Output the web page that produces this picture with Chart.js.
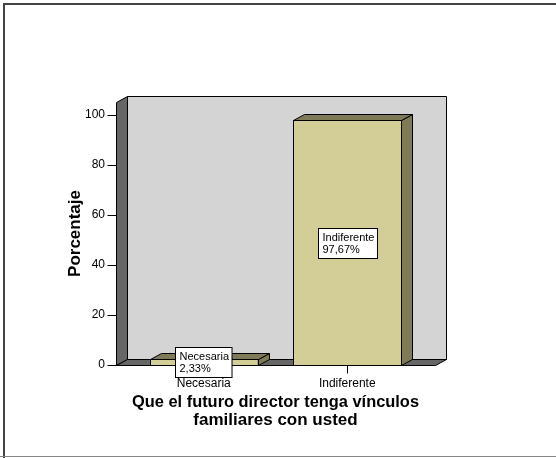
<!DOCTYPE html>
<html>
<head>
<meta charset="utf-8">
<script src="https://cdn.jsdelivr.net/npm/chart.js@4/dist/chart.umd.min.js"></script>
<style>
  body { margin: 0; background: #fff; }
</style>
</head>
<body>
<canvas id="chart" width="556" height="458"></canvas>
<script>
const categories = ["Necesaria", "Indiferente"];
const percentages = [2.33, 97.67];
const yTicks = [0, 20, 40, 60, 80, 100];
const xTitle = ["Que el futuro director tenga vínculos", "familiares con usted"];
const yTitle = "Porcentaje";

const FONT = "Arial, 'Liberation Sans', sans-serif";
const DX = 11, DY = 6, WALL_PAD = 16;

function poly(ctx, pts, fill) {
  ctx.beginPath();
  pts.forEach(([x, y], i) => i ? ctx.lineTo(x, y) : ctx.moveTo(x, y));
  ctx.closePath();
  ctx.fillStyle = fill;
  ctx.fill();
  ctx.strokeStyle = "#000";
  ctx.lineWidth = 1;
  ctx.stroke();
}

const px = v => Math.round(v) + 0.5;

// 3D walls, floor, bar sides and value boxes
const frame3d = {
  id: "frame3d",
  beforeDraw(chart) {
    const ctx = chart.ctx;
    ctx.save();
    ctx.fillStyle = "#fff";
    ctx.fillRect(0, 0, chart.width, chart.height);
    ctx.strokeStyle = "#444";
    ctx.lineWidth = 2;
    ctx.beginPath();
    ctx.moveTo(4, chart.height);
    ctx.lineTo(4, 4);
    ctx.lineTo(chart.width, 4);
    ctx.stroke();
    ctx.strokeStyle = "#888";
    ctx.lineWidth = 1;
    ctx.beginPath();
    ctx.moveTo(0, chart.height - 1.5);
    ctx.lineTo(chart.width, chart.height - 1.5);
    ctx.stroke();
    ctx.restore();
  },
  beforeDatasetsDraw(chart) {
    const { ctx, chartArea: a, scales: { x, y } } = chart;
    const L = px(a.left - WALL_PAD), R = px(a.right + WALL_PAD);
    const T = px(a.top), B = px(y.getPixelForValue(0));
    ctx.save();
    poly(ctx, [[L + DX, T - DY], [R + DX, T - DY], [R + DX, B - DY], [L + DX, B - DY]], "#d4d4d4");
    poly(ctx, [[L, T], [L + DX, T - DY], [L + DX, B - DY], [L, B]], "#666666");
    poly(ctx, [[L, B], [L + DX, B - DY], [R + DX, B - DY], [R, B]], "#666666");
    ctx.strokeStyle = "#000";
    ctx.beginPath();
    yTicks.forEach(v => {
      const ty = px(y.getPixelForValue(v));
      ctx.moveTo(L - 9, ty);
      ctx.lineTo(L, ty);
    });
    categories.forEach((c, i) => {
      const tx = px(x.getPixelForValue(i));
      ctx.moveTo(tx, B);
      ctx.lineTo(tx, B + 8);
    });
    ctx.stroke();
    ctx.restore();
  },
  afterDatasetsDraw(chart) {
    const ctx = chart.ctx;
    ctx.save();
    chart.getDatasetMeta(0).data.forEach(bar => {
      const x0 = px(bar.x - bar.width / 2), x1 = px(bar.x + bar.width / 2);
      const top = px(bar.y), base = px(bar.base);
      ctx.strokeStyle = "#000";
      ctx.lineWidth = 1;
      ctx.strokeRect(x0, top, x1 - x0, base - top);
      poly(ctx, [[x1, top], [x1 + DX, top - DY], [x1 + DX, base - DY], [x1, base]], "#7f7b59");
      poly(ctx, [[x0, top], [x0 + DX, top - DY], [x1 + DX, top - DY], [x1, top]], "#7f7b59");
    });
    ctx.restore();
  },
  afterDraw(chart) {
    const ctx = chart.ctx;
    ctx.save();
    ctx.font = "11px " + FONT;
    ctx.textBaseline = "middle";
    chart.getDatasetMeta(0).data.forEach((bar, i) => {
      const lines = [categories[i], percentages[i].toFixed(2).replace(".", ",") + "%"];
      const w = Math.max(...lines.map(t => ctx.measureText(t).width)) + 7;
      const h = 30;
      const bx = Math.round(bar.x - w / 2) + 0.5;
      const by = Math.round((bar.y + bar.base) / 2 - h / 2) + 0.5;
      ctx.fillStyle = "#fff";
      ctx.fillRect(bx, by, w, h);
      ctx.strokeStyle = "#000";
      ctx.lineWidth = 1;
      ctx.strokeRect(bx, by, w, h);
      ctx.fillStyle = "#000";
      ctx.fillText(lines[0], bx + 4, by + h / 2 - 6);
      ctx.fillText(lines[1], bx + 4, by + h / 2 + 6);
    });
    ctx.restore();
  }
};

new Chart(document.getElementById("chart"), {
  type: "bar",
  data: {
    labels: categories,
    datasets: [{
      data: percentages,
      backgroundColor: "#d3ce97",
      borderWidth: 0,
      barPercentage: 0.75,
      categoryPercentage: 1
    }]
  },
  options: {
    responsive: false,
    animation: false,
    devicePixelRatio: 1,
    layout: { padding: { top: 102, right: 137, bottom: 0, left: 0 } },
    plugins: { legend: { display: false }, tooltip: { enabled: false } },
    scales: {
      x: {
        grid: { display: false },
        border: { display: false },
        ticks: { color: "#000", padding: 3, font: { family: FONT, size: 12 } },
        title: {
          display: true,
          text: xTitle,
          color: "#000",
          font: { family: FONT, size: 17, weight: "bold", lineHeight: "18px" },
          padding: { top: 0, bottom: 29 }
        },
        afterFit(s) { s.height = 93; }
      },
      y: {
        min: 0,
        max: 105,
        grid: { display: false },
        border: { display: false },
        ticks: { color: "#000", padding: 19, font: { family: FONT, size: 12 } },
        afterBuildTicks(s) { s.ticks = yTicks.map(v => ({ value: v })); },
        title: {
          display: true,
          text: yTitle,
          color: "#000",
          font: { family: FONT, size: 17, weight: "bold", lineHeight: "18px" },
          padding: { top: 66, bottom: 0 }
        },
        afterFit(s) { s.width = 132; }
      }
    }
  },
  plugins: [frame3d]
});
</script>
</body>
</html>
